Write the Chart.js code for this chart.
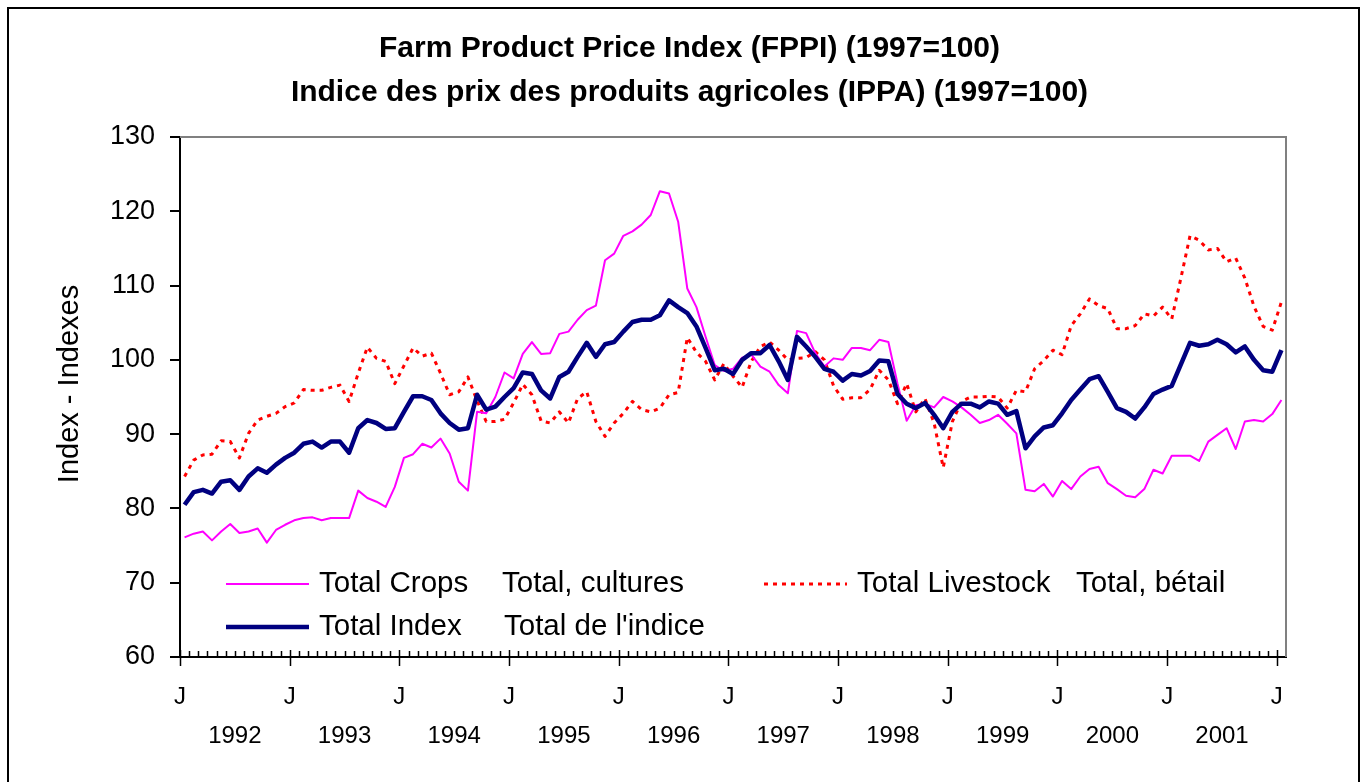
<!DOCTYPE html>
<html>
<head>
<meta charset="utf-8">
<title>Farm Product Price Index (FPPI)</title>
<script src="https://cdn.jsdelivr.net/npm/chart.js@4.4.0/dist/chart.umd.min.js"></script>
<style>
  html, body { margin: 0; padding: 0; background: #fff; }
  canvas { display: block; }
</style>
</head>
<body>
<canvas id="fppiChart" width="1366" height="782"></canvas>
<script>
// years shown under the axis; one point per month from Jan 1992 to Jan 2002
const yearLabels = ['1992', '1993', '1994', '1995', '1996', '1997', '1998', '1999', '2000', '2001'];
const lastLabel = '2002-01';
const monthLetter = 'J';

const titleLines = [
    'Farm Product Price Index (FPPI) (1997=100)',
    'Indice des prix des produits agricoles (IPPA) (1997=100)'
];
const yAxisTitle = 'Index - Indexes';
const seriesNames = ['Total Crops', 'Total Livestock', 'Total Index'];
const seriesNamesFr = ['Total, cultures', 'Total, bétail', "Total de l'indice"];

const yMin = 60;
const yMax = 130;
const yStep = 10;

const totalCrops = [
    76.1, 76.6, 76.9, 75.7, 76.9, 77.9, 76.7, 76.9, 77.3, 75.4, 77.1, 77.8,
    78.4, 78.7, 78.8, 78.4, 78.7, 78.7, 78.7, 82.4, 81.4, 80.9, 80.2, 82.9,
    86.8, 87.3, 88.7, 88.2, 89.4, 87.4, 83.6, 82.4, 93.0, 92.8, 95.0, 98.3,
    97.5, 100.8, 102.4, 100.8, 100.9, 103.5, 103.8, 105.4, 106.7, 107.3, 113.4, 114.3,
    116.7, 117.3, 118.2, 119.5, 122.7, 122.4, 118.6, 109.6, 107.1, 103.1, 99.3, 98.5,
    98.8, 100.3, 100.7, 99.1, 98.4, 96.6, 95.5, 103.9, 103.6, 100.9, 99.1, 100.2,
    100.0, 101.6, 101.6, 101.3, 102.7, 102.4, 96.8, 91.8, 93.9, 94.1, 93.6, 95.0,
    94.4, 93.6, 92.6, 91.5, 91.9, 92.6, 91.4, 90.1, 82.5, 82.3, 83.3, 81.6,
    83.7, 82.6, 84.3, 85.3, 85.6, 83.4, 82.6, 81.7, 81.5, 82.6, 85.2, 84.7,
    87.1, 87.1, 87.1, 86.4, 89.0, 89.9, 90.8, 88.0, 91.7, 91.9, 91.7, 92.7,
    94.6
];

const totalLivestock = [
    84.3, 86.5, 87.2, 87.3, 89.1, 89.0, 86.8, 90.1, 91.9, 92.4, 92.8, 93.7,
    94.2, 96.0, 95.9, 95.9, 96.3, 96.6, 94.4, 98.2, 101.7, 100.2, 99.8, 96.8,
    99.2, 101.6, 100.5, 100.9, 98.2, 95.3, 95.7, 97.7, 94.5, 91.7, 91.7, 92.0,
    94.2, 96.7, 95.3, 91.8, 91.5, 93.0, 91.5, 94.8, 95.7, 91.7, 89.7, 91.5,
    92.8, 94.4, 93.3, 93.0, 93.5, 95.3, 95.6, 103.0, 101.0, 99.8, 97.3, 99.5,
    97.8, 96.3, 99.8, 101.8, 102.4, 101.3, 100.0, 100.2, 100.3, 101.1, 100.0, 96.5,
    94.7, 94.9, 94.9, 96.0, 98.6, 97.3, 94.1, 96.8, 93.0, 94.8, 91.5, 85.5,
    91.7, 94.4, 95.0, 95.0, 95.1, 95.0, 93.5, 95.9, 95.7, 98.8, 99.9, 101.3,
    100.7, 104.6, 106.2, 108.2, 107.3, 106.9, 104.2, 104.2, 104.6, 106.2, 105.9, 107.1,
    105.5, 111.0, 116.7, 116.1, 114.8, 115.0, 113.2, 113.7, 111.0, 107.2, 104.5, 104.0,
    107.8
];

const totalIndex = [
    80.5, 82.2, 82.5, 82.0, 83.6, 83.8, 82.5, 84.3, 85.4, 84.8, 85.9, 86.8,
    87.5, 88.7, 89.0, 88.2, 89.0, 89.0, 87.5, 90.8, 91.9, 91.5, 90.7, 90.8,
    93.0, 95.1, 95.1, 94.6, 92.8, 91.5, 90.6, 90.8, 95.3, 93.3, 93.7, 95.0,
    96.2, 98.3, 98.1, 95.9, 94.8, 97.7, 98.4, 100.4, 102.3, 100.4, 102.1, 102.4,
    103.8, 105.1, 105.4, 105.4, 106.0, 108.0, 107.1, 106.3, 104.5, 101.6, 98.6, 98.8,
    98.1, 100.0, 100.9, 100.9, 102.0, 99.8, 97.3, 103.1, 101.8, 100.4, 98.8, 98.4,
    97.2, 98.1, 97.9, 98.5, 99.9, 99.8, 95.4, 94.1, 93.5, 94.2, 92.6, 90.8,
    93.0, 94.1, 94.1, 93.6, 94.4, 94.1, 92.6, 93.1, 88.1, 89.7, 90.9, 91.2,
    92.8, 94.6, 96.0, 97.4, 97.8, 95.7, 93.5, 93.0, 92.1, 93.6, 95.4, 96.0,
    96.5, 99.4, 102.3, 101.9, 102.1, 102.7, 102.1, 101.0, 101.8, 100.0, 98.6, 98.4,
    101.3
];

// month categories, e.g. 1992-01 ... 2002-01
const monthLabels = [];
yearLabels.forEach(y => {
    for (let m = 1; m <= 12; m++) monthLabels.push(y + '-' + String(m).padStart(2, '0'));
});
monthLabels.push(lastLabel);

const FONT = "'Liberation Sans', Arial, sans-serif";
Chart.defaults.font.family = FONT;
Chart.defaults.color = '#000';

// frame, month ticks, J / year labels, rotated axis title and the two-column legend
const fppiDecor = {
    id: 'fppiDecor',
    afterDraw(chart) {
        const ctx = chart.ctx;
        const area = chart.chartArea;
        const xs = chart.scales.x;
        ctx.save();

        // outer chart border
        ctx.strokeStyle = '#000';
        ctx.lineWidth = 2;
        ctx.strokeRect(8, 8, chart.width - 15, chart.height + 20);

        // plot area top and right edges
        ctx.strokeStyle = '#808080';
        ctx.lineWidth = 2;
        ctx.beginPath();
        ctx.moveTo(area.left, area.top);
        ctx.lineTo(area.right, area.top);
        ctx.lineTo(area.right, area.bottom);
        ctx.stroke();

        // month tick marks on the category boundaries
        const step = xs.getPixelForValue(1) - xs.getPixelForValue(0);
        const x0 = xs.getPixelForValue(0) - step / 2;
        ctx.strokeStyle = '#000';
        ctx.lineWidth = 1.5;
        ctx.beginPath();
        for (let k = 0; k <= monthLabels.length; k++) {
            const x = Math.round(x0 + k * step) + 0.5;
            if (k % 12 === 0) {
                ctx.moveTo(x, area.bottom - 7);
                ctx.lineTo(x, area.bottom + 9);
            } else if (k < monthLabels.length) {
                ctx.moveTo(x, area.bottom - 6);
                ctx.lineTo(x, area.bottom);
            }
        }
        ctx.stroke();

        // J under each January tick, year centred under its span
        ctx.fillStyle = '#000';
        ctx.textAlign = 'center';
        ctx.textBaseline = 'middle';
        ctx.font = '24px ' + FONT;
        for (let k = 0; k <= yearLabels.length; k++) {
            ctx.fillText(monthLetter, x0 + k * 12 * step, area.bottom + 40);
        }
        yearLabels.forEach((y, k) => {
            ctx.fillText(y, x0 + (k + 0.5) * 12 * step, area.bottom + 79);
        });

        // y axis title
        ctx.save();
        ctx.translate(70, (area.top + area.bottom) / 2 - 13);
        ctx.rotate(-Math.PI / 2);
        ctx.font = '29px ' + FONT;
        ctx.fillText(yAxisTitle, 0, 0);
        ctx.restore();

        // legend: [dataset, line start offset, text offset, french text offset, row]
        const legendPlaces = [
            [0, 46, 139, 322, 0],
            [1, 584, 677, 896, 0],
            [2, 46, 139, 324, 1]
        ];
        ctx.font = '29.5px ' + FONT;
        ctx.textAlign = 'left';
        ctx.textBaseline = 'alphabetic';
        legendPlaces.forEach(([di, lx, tx, fx, row]) => {
            const ds = chart.data.datasets[di];
            const lineY = area.bottom - 73 + row * 43;
            ctx.save();
            ctx.strokeStyle = ds.borderColor;
            ctx.lineWidth = ds.borderWidth;
            ctx.setLineDash(ds.borderDash || []);
            ctx.beginPath();
            ctx.moveTo(area.left + lx, lineY);
            ctx.lineTo(area.left + lx + 83, lineY);
            ctx.stroke();
            ctx.restore();
            ctx.fillText(seriesNames[di], area.left + tx, lineY + 8);
            ctx.fillText(seriesNamesFr[di], area.left + fx, lineY + 8);
        });

        ctx.restore();
    }
};

new Chart(document.getElementById('fppiChart'), {
    type: 'line',
    data: {
        labels: monthLabels,
        datasets: [
            {
                label: seriesNames[0],
                data: totalCrops,
                borderColor: '#FF00FF',
                borderWidth: 2,
                order: 1
            },
            {
                label: seriesNames[1],
                data: totalLivestock,
                borderColor: '#FF0000',
                borderWidth: 3,
                borderDash: [4, 5],
                order: 2
            },
            {
                label: seriesNames[2],
                data: totalIndex,
                borderColor: '#000080',
                borderWidth: 4.5,
                order: 0
            }
        ]
    },
    options: {
        responsive: false,
        animation: false,
        elements: {
            point: { radius: 0 },
            line: { tension: 0, borderCapStyle: 'butt', borderJoinStyle: 'round' }
        },
        layout: {
            padding: { left: 93, right: 80, top: 0, bottom: 124 }
        },
        plugins: {
            legend: { display: false },
            tooltip: { enabled: false },
            title: {
                display: true,
                text: titleLines,
                color: '#000',
                font: { size: 30, weight: 'bold', lineHeight: 1.45 },
                padding: { top: 27, bottom: 23 }
            }
        },
        scales: {
            x: {
                type: 'category',
                offset: true,
                afterFit: s => { s.height = 1; },
                ticks: { display: false },
                grid: { display: true, drawOnChartArea: false, drawTicks: false, offset: true },
                border: { display: true, color: '#000', width: 2 }
            },
            y: {
                min: yMin,
                max: yMax,
                afterFit: s => { s.width = 87; },
                ticks: {
                    stepSize: yStep,
                    color: '#000',
                    padding: 15,
                    font: { size: 27 }
                },
                grid: {
                    drawOnChartArea: false,
                    drawTicks: true,
                    tickLength: 10,
                    color: '#000',
                    lineWidth: 2
                },
                border: { display: true, color: '#000', width: 2 }
            }
        }
    },
    plugins: [fppiDecor]
});
</script>
</body>
</html>
